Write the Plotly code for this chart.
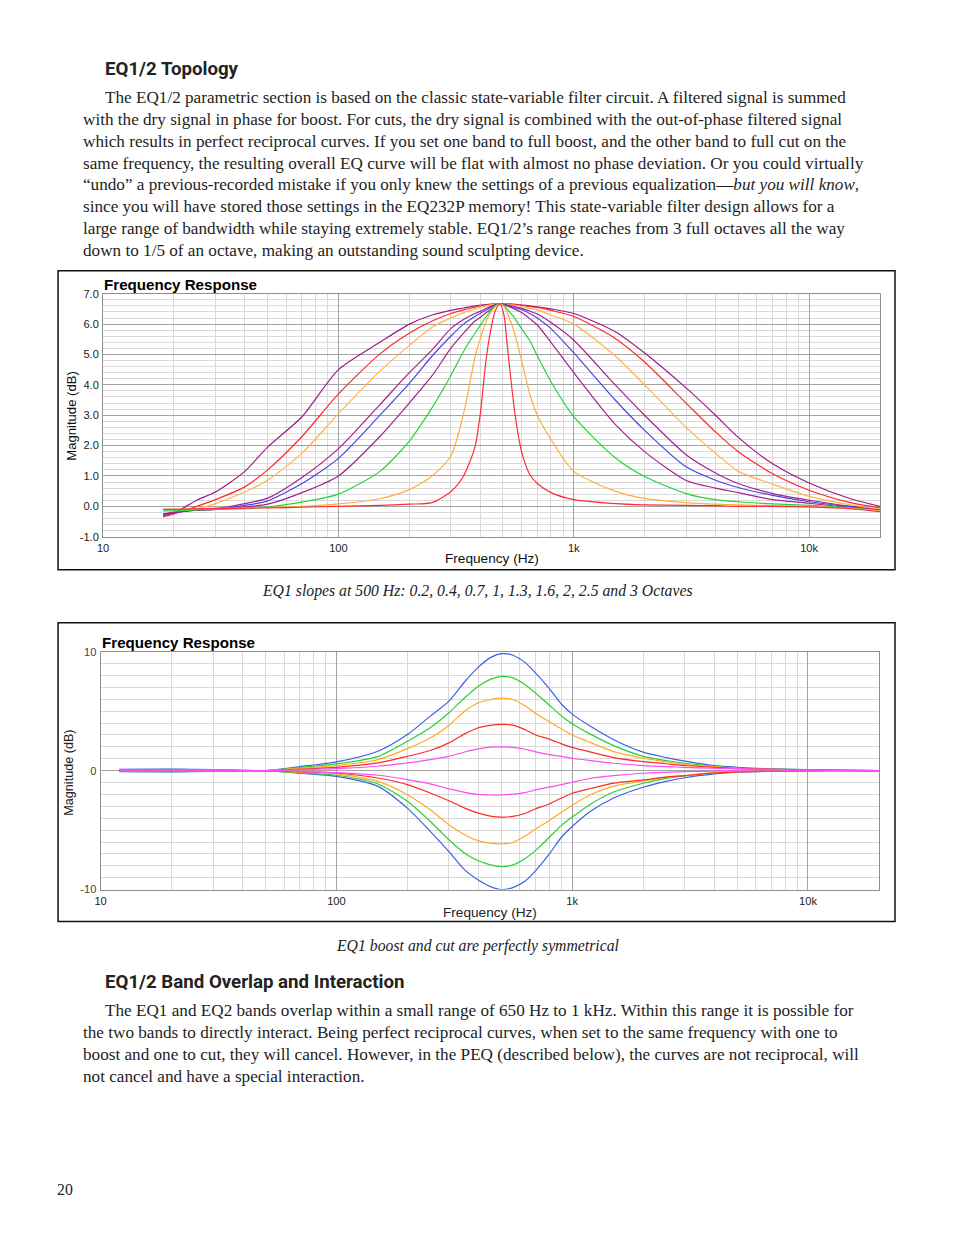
import plotly.graph_objects as go

W, H = 954, 1235

# ---------------- Chart 1 data (EQ1 slopes at 500 Hz) ----------------
freq1 = [18, 20, 25, 30, 40, 50, 70, 100, 150, 200, 250, 300, 340, 380, 400, 425, 450, 465,
         485, 505, 520, 560, 600, 650, 700, 800, 1000, 1500, 2000, 3000, 4000, 5000, 7000,
         10000, 15000, 20000]

oct_3_0 = [-0.30, -0.22, 0.20, 0.47, 1.15, 1.95, 2.95, 4.50, 5.40, 6.00, 6.30, 6.45, 6.53, 6.60, 6.62, 6.64, 6.66, 6.67,
           6.67, 6.67, 6.66, 6.65, 6.63, 6.60, 6.57, 6.50, 6.35, 5.75, 5.05, 3.90, 3.00, 2.27, 1.40, 0.77, 0.25, 0.00]
oct_2_5 = [-0.35, -0.25, 0.00, 0.22, 0.64, 1.20, 2.30, 3.70, 5.02, 5.70, 6.10, 6.35, 6.47, 6.56, 6.60, 6.63, 6.65, 6.66,
           6.67, 6.67, 6.66, 6.65, 6.62, 6.58, 6.55, 6.45, 6.25, 5.53, 4.75, 3.40, 2.45, 1.80, 1.07, 0.53, 0.12, -0.05]
oct_2_0 = [-0.25, -0.20, -0.08, 0.09, 0.47, 0.86, 1.75, 3.05, 4.45, 5.30, 5.90, 6.20, 6.38, 6.50, 6.55, 6.60, 6.64, 6.66,
           6.67, 6.67, 6.65, 6.62, 6.58, 6.52, 6.47, 6.30, 6.00, 4.95, 4.00, 2.60, 1.75, 1.15, 0.73, 0.33, 0.05, -0.10]
oct_1_6 = [-0.30, -0.22, -0.12, -0.08, 0.09, 0.27, 0.95, 1.90, 3.35, 4.40, 5.15, 5.85, 6.15, 6.35, 6.42, 6.52, 6.60, 6.64,
           6.67, 6.66, 6.63, 6.58, 6.52, 6.43, 6.33, 6.05, 5.47, 4.00, 3.00, 1.70, 1.10, 0.75, 0.42, 0.20, 0.00, -0.12]
oct_1_3 = [-0.28, -0.20, -0.13, -0.10, 0.03, 0.18, 0.75, 1.58, 3.00, 4.05, 4.95, 5.60, 6.00, 6.25, 6.35, 6.47, 6.57, 6.62,
           6.67, 6.65, 6.62, 6.55, 6.48, 6.35, 6.20, 5.85, 5.05, 3.50, 2.50, 1.30, 0.86, 0.62, 0.36, 0.15, -0.02, -0.14]
oct_1_0 = [-0.25, -0.20, -0.13, -0.10, -0.02, 0.07, 0.45, 1.00, 2.30, 3.40, 4.30, 5.20, 5.70, 6.10, 6.22, 6.38, 6.52, 6.60,
           6.67, 6.64, 6.60, 6.50, 6.38, 6.18, 5.97, 5.40, 4.40, 2.70, 1.80, 0.85, 0.60, 0.45, 0.22, 0.10, -0.05, -0.15]
oct_0_7 = [-0.15, -0.15, -0.12, -0.10, -0.08, -0.02, 0.14, 0.40, 1.15, 2.15, 3.25, 4.30, 5.10, 5.70, 5.95, 6.25, 6.50, 6.60,
           6.67, 6.62, 6.50, 6.20, 5.85, 5.45, 4.95, 4.10, 2.95, 1.60, 0.98, 0.42, 0.22, 0.15, 0.08, 0.03, -0.05, -0.15]
oct_0_4 = [-0.10, -0.10, -0.08, -0.07, -0.05, -0.03, 0.00, 0.08, 0.25, 0.55, 1.00, 1.65, 3.05, 4.90, 5.50, 6.10, 6.45, 6.58,
           6.67, 6.58, 6.40, 5.70, 4.80, 3.70, 3.00, 2.20, 1.15, 0.50, 0.26, 0.12, 0.07, 0.05, 0.02, 0.00, -0.07, -0.15]
oct_0_2 = [-0.10, -0.10, -0.08, -0.07, -0.06, -0.05, -0.03, 0.00, 0.03, 0.07, 0.12, 0.48, 1.00, 1.95, 3.00, 4.90, 6.05, 6.45,
           6.67, 6.30, 5.40, 3.15, 1.80, 1.05, 0.75, 0.45, 0.22, 0.09, 0.05, 0.03, 0.02, 0.00, 0.00, -0.02, -0.08, -0.18]

series1 = [
    ("3 oct", oct_3_0, "#9c1c8c"),
    ("2.5 oct", oct_2_5, "#ff2a2a"),
    ("2 oct", oct_2_0, "#ffb347"),
    ("1.6 oct", oct_1_6, "#a3228f"),
    ("1.3 oct", oct_1_3, "#4a44e6"),
    ("1 oct", oct_1_0, "#a3228f"),
    ("0.7 oct", oct_0_7, "#22d33c"),
    ("0.4 oct", oct_0_4, "#ffae3a"),
    ("0.2 oct", oct_0_2, "#ff2b3c"),
]

# ---------------- Chart 2 data (boost / cut) ----------------
freq2 = [12, 20, 30, 40, 50, 70, 100, 150, 200, 250, 300, 350, 400, 450, 500, 560, 630, 700, 800, 900,
         1000, 1200, 1500, 2000, 2500, 3000, 4000, 5000, 7000, 10000, 15000, 20000]

boost_10 = [0.10, 0.12, 0.08, 0.03, 0.00, 0.34, 0.73, 1.63, 3.03, 4.58, 5.84, 7.47, 8.70, 9.50, 9.83, 9.70, 9.10, 8.20, 6.90, 5.60,
            4.75, 3.70, 2.60, 1.55, 1.10, 0.80, 0.42, 0.28, 0.14, 0.08, 0.03, 0.00]
cut_10 = [-0.08, -0.10, -0.06, -0.02, 0.00, -0.22, -0.48, -1.32, -3.15, -5.10, -6.80, -8.34, -9.19, -9.75, -10.00, -9.83, -9.30, -8.40, -7.00, -5.60,
          -4.70, -3.40, -2.30, -1.40, -0.90, -0.60, -0.28, -0.12, -0.05, -0.02, 0.00, 0.00]
boost_8 = [0.08, 0.10, 0.06, 0.02, 0.00, 0.27, 0.56, 1.20, 2.47, 3.60, 4.86, 6.12, 7.10, 7.67, 7.92, 7.80, 7.25, 6.50, 5.50, 4.60,
           3.95, 3.05, 2.10, 1.20, 0.85, 0.62, 0.37, 0.22, 0.14, 0.08, 0.03, 0.00]
cut_8 = [-0.06, -0.08, -0.05, -0.02, 0.00, -0.18, -0.39, -1.12, -2.58, -4.27, -5.81, -6.94, -7.58, -7.92, -8.06, -7.92, -7.40, -6.70, -5.60, -4.60,
         -3.90, -2.80, -1.80, -1.06, -0.65, -0.45, -0.20, -0.08, -0.03, -0.01, 0.00, 0.00]
boost_6 = [0.06, 0.08, 0.05, 0.02, 0.00, 0.20, 0.42, 0.93, 1.85, 2.75, 3.80, 5.00, 5.70, 5.98, 6.10, 5.98, 5.45, 4.80, 4.10, 3.50,
           3.00, 2.35, 1.60, 1.04, 0.75, 0.53, 0.34, 0.20, 0.11, 0.06, 0.02, 0.00]
cut_6 = [-0.05, -0.06, -0.04, -0.01, 0.00, -0.13, -0.28, -0.90, -2.02, -3.29, -4.55, -5.39, -5.90, -6.10, -6.15, -6.04, -5.50, -4.90, -4.20, -3.50,
         -2.90, -2.00, -1.30, -0.87, -0.55, -0.40, -0.17, -0.08, -0.03, -0.01, 0.00, 0.00]
boost_4 = [0.04, 0.05, 0.03, 0.01, 0.00, 0.13, 0.28, 0.65, 1.20, 1.69, 2.33, 3.09, 3.60, 3.80, 3.88, 3.82, 3.45, 3.00, 2.65, 2.25,
           1.95, 1.55, 1.10, 0.76, 0.58, 0.43, 0.28, 0.17, 0.11, 0.06, 0.02, 0.00]
cut_4 = [-0.03, -0.04, -0.02, -0.01, 0.00, -0.09, -0.20, -0.62, -1.18, -1.88, -2.53, -3.15, -3.57, -3.82, -3.90, -3.85, -3.60, -3.20, -2.80, -2.30,
         -1.90, -1.50, -1.05, -0.78, -0.55, -0.42, -0.20, -0.10, -0.05, -0.02, 0.00, 0.00]
boost_2 = [0.02, 0.03, 0.02, 0.01, 0.00, 0.08, 0.17, 0.37, 0.65, 0.93, 1.20, 1.57, 1.83, 1.97, 2.00, 1.95, 1.80, 1.58, 1.35, 1.20,
           1.04, 0.84, 0.62, 0.42, 0.33, 0.28, 0.20, 0.17, 0.10, 0.05, 0.02, 0.00]
cut_2 = [-0.02, -0.03, -0.02, -0.01, 0.00, -0.07, -0.17, -0.39, -0.76, -1.12, -1.52, -1.83, -2.00, -2.05, -2.05, -1.98, -1.85, -1.62, -1.38, -1.18,
         -0.98, -0.64, -0.42, -0.22, -0.14, -0.08, -0.04, -0.02, -0.01, 0.00, 0.00, 0.00]

series2 = [
    (boost_10, "#3a63e0"), (cut_10, "#3a63e0"),
    (boost_8, "#2ccf35"), (cut_8, "#2ccf35"),
    (boost_6, "#ffaa22"), (cut_6, "#ffaa22"),
    (boost_4, "#ff2a2a"), (cut_4, "#ff2a2a"),
    (boost_2, "#ff4cf2"), (cut_2, "#ff4cf2"),
]

# ---------------- Axis labels / texts ----------------
x_tickvals = [10, 100, 1000, 10000]
x_ticktext = ["10", "100", "1k", "10k"]
x_minor = [20, 30, 40, 50, 60, 70, 80, 90, 200, 300, 400, 500, 600, 700, 800, 900,
           2000, 3000, 4000, 5000, 6000, 7000, 8000, 9000, 20000]
y1_tickvals = [-1, 0, 1, 2, 3, 4, 5, 6, 7]
y1_ticktext = ["-1.0", "0.0", "1.0", "2.0", "3.0", "4.0", "5.0", "6.0", "7.0"]
y2_tickvals = [-10, 0, 10]
y2_ticktext = ["-10", "0", "10"]

heading1 = "EQ1/2 Topology"
para1 = [
    "The EQ1/2 parametric section is based on the classic state-variable filter circuit. A filtered signal is summed",
    "with the dry signal in phase for boost. For cuts, the dry signal is combined with the out-of-phase filtered signal",
    "which results in perfect reciprocal curves. If you set one band to full boost, and the other band to full cut on the",
    "same frequency, the resulting overall EQ curve will be flat with almost no phase deviation. Or you could virtually",
    "\u201cundo\u201d a previous-recorded mistake if you only knew the settings of a previous equalization\u2014<i>but you will know</i>,",
    "since you will have stored those settings in the EQ232P memory! This state-variable filter design allows for a",
    "large range of bandwidth while staying extremely stable. EQ1/2\u2019s range reaches from 3 full octaves all the way",
    "down to 1/5 of an octave, making an outstanding sound sculpting device.",
]
caption1 = "EQ1 slopes at 500 Hz: 0.2, 0.4, 0.7, 1, 1.3, 1.6, 2, 2.5 and 3 Octaves"
caption2 = "EQ1 boost and cut are perfectly symmetrical"
heading2 = "EQ1/2 Band Overlap and Interaction"
para2 = [
    "The EQ1 and EQ2 bands overlap within a small range of 650 Hz to 1 kHz. Within this range it is possible for",
    "the two bands to directly interact. Being perfect reciprocal curves, when set to the same frequency with one to",
    "boost and one to cut, they will cancel. However, in the PEQ (described below), the curves are not reciprocal, will",
    "not cancel and have a special interaction.",
]
page_number = "20"

# page-position helpers (target page pixels -> paper fraction, compensating the
# small inset/scale observed in the rendered photograph)
SX, OX, SY, OY = 0.9926, 6.0, 0.9905, 6.2


def px(x):
    return ((x - OX) / SX) / W


def py(y):
    return 1 - ((y - OY) / SY) / H


def fs(s):
    return round(s / SY, 2)


fig = go.Figure()

for name, vals, color in series1:
    fig.add_trace(go.Scatter(x=freq1, y=vals, mode="lines", name=name,
                             line=dict(color=color, width=1.2, shape="spline", smoothing=0.7),
                             xaxis="x", yaxis="y", showlegend=False, hoverinfo="skip"))

for vals, color in series2:
    fig.add_trace(go.Scatter(x=freq2, y=vals, mode="lines",
                             line=dict(color=color, width=1.2, shape="spline", smoothing=0.7),
                             xaxis="x2", yaxis="y2", showlegend=False, hoverinfo="skip"))

tickfont = dict(family="Liberation Sans, Arial, sans-serif", size=fs(11), color="#222")
major_grid = "#a3a3a3"
minor_grid = "#d9d9d9"


def xaxis_cfg(domain, anchor):
    return dict(type="log", range=[1, 4.301], domain=domain, anchor=anchor,
                tickmode="array", tickvals=x_tickvals, ticktext=x_ticktext,
                showgrid=True, gridcolor=major_grid, gridwidth=1,
                minor=dict(tickmode="array", tickvals=x_minor, showgrid=True,
                           gridcolor=minor_grid, gridwidth=1, ticks=""),
                showline=True, mirror=True, linecolor="#8f8f8f", linewidth=1,
                ticks="", zeroline=False, tickfont=tickfont, ticklabelstandoff=1,
                fixedrange=True)


layout = dict(
    width=W, height=H, margin=dict(l=0, r=0, t=0, b=0),
    paper_bgcolor="white", plot_bgcolor="white",
    xaxis=xaxis_cfg([px(103), px(879)], "y"),
    yaxis=dict(range=[-1, 7], domain=[py(537), py(294)], anchor="x",
               tickmode="array", tickvals=y1_tickvals, ticktext=y1_ticktext,
               showgrid=True, gridcolor=major_grid,
               minor=dict(dtick=0.2, tick0=0, showgrid=True, gridcolor=minor_grid, ticks=""),
               showline=True, mirror=True, linecolor="#8f8f8f", ticks="",
               zeroline=False, tickfont=tickfont, ticklabelstandoff=1, fixedrange=True),
    xaxis2=xaxis_cfg([px(100.5), px(878)], "y2"),
    yaxis2=dict(range=[-10, 10], domain=[py(890), py(652)], anchor="x2",
                tickmode="array", tickvals=y2_tickvals, ticktext=y2_ticktext,
                showgrid=True, gridcolor=major_grid,
                minor=dict(dtick=1, tick0=0, showgrid=True, gridcolor=minor_grid, ticks=""),
                showline=True, mirror=True, linecolor="#8f8f8f", ticks="",
                zeroline=False, tickfont=dict(family="Liberation Sans, Arial, sans-serif", size=fs(11), color="#444"),
                ticklabelstandoff=1, fixedrange=True),
)
fig.update_layout(**layout)

# outer boxes around the charts
for (y0, y1) in [(271, 570), (623, 922)]:
    fig.add_shape(type="rect", xref="paper", yref="paper",
                  x0=px(58), x1=px(894), y0=py(y1), y1=py(y0),
                  line=dict(color="#111", width=1.5), fillcolor="rgba(0,0,0,0)", layer="above")

ann = []
serif = "Liberation Serif, Times New Roman, serif"
sans = "Liberation Sans, Arial, sans-serif"
head = "Roboto, Noto Sans, sans-serif"


def text(x, y, s, size, family, color="#1e1e1e", xanchor="left", angle=0):
    ann.append(dict(x=px(x), y=py(y), xref="paper", yref="paper", text=s, showarrow=False,
                    xanchor=xanchor, yanchor="middle", textangle=angle,
                    font=dict(family=family, size=fs(size), color=color)))


text(103, 69, "<b>" + heading1 + "</b>", 18.5, head, "#222")
ys1 = [98, 120, 142, 164, 185, 207, 229, 251]
for i, (line, y) in enumerate(zip(para1, ys1)):
    text(103 if i == 0 else 81, y, line, 17, serif, "#1e1e1e")

# chart 1 texts
text(102, 285, "<b>Frequency Response</b>", 15, sans, "#000")
text(72, 416, "Magnitude (dB)", 13, sans, "#111", xanchor="center", angle=-90)
text(491, 559, "Frequency (Hz)", 13.5, sans, "#111", xanchor="center")
text(477, 591, "<i>" + caption1 + "</i>", 15.6, serif, "#222", xanchor="center")

# chart 2 texts
text(100, 643, "<b>Frequency Response</b>", 15, sans, "#000")
text(69, 773, "Magnitude (dB)", 12.5, sans, "#222", xanchor="center", angle=-90)
text(489, 913, "Frequency (Hz)", 13.5, sans, "#222", xanchor="center")
text(477, 946, "<i>" + caption2 + "</i>", 15.6, serif, "#222", xanchor="center")

text(103, 982, "<b>" + heading2 + "</b>", 18.5, head, "#222")
ys2 = [1011, 1033, 1055, 1077]
for i, (line, y) in enumerate(zip(para2, ys2)):
    text(103 if i == 0 else 81, y, line, 17, serif, "#1e1e1e")

text(55, 1190, page_number, 15.6, serif, "#222")

fig.update_layout(annotations=ann)

post = (
    "document.documentElement.style.margin='0';"
    "document.body.style.margin='0';"
    "document.body.style.overflow='hidden';"
    "document.documentElement.style.overflow='hidden';"
)
fig.write_html("out.html", config={"displayModeBar": False, "staticPlot": True}, post_script=post)
